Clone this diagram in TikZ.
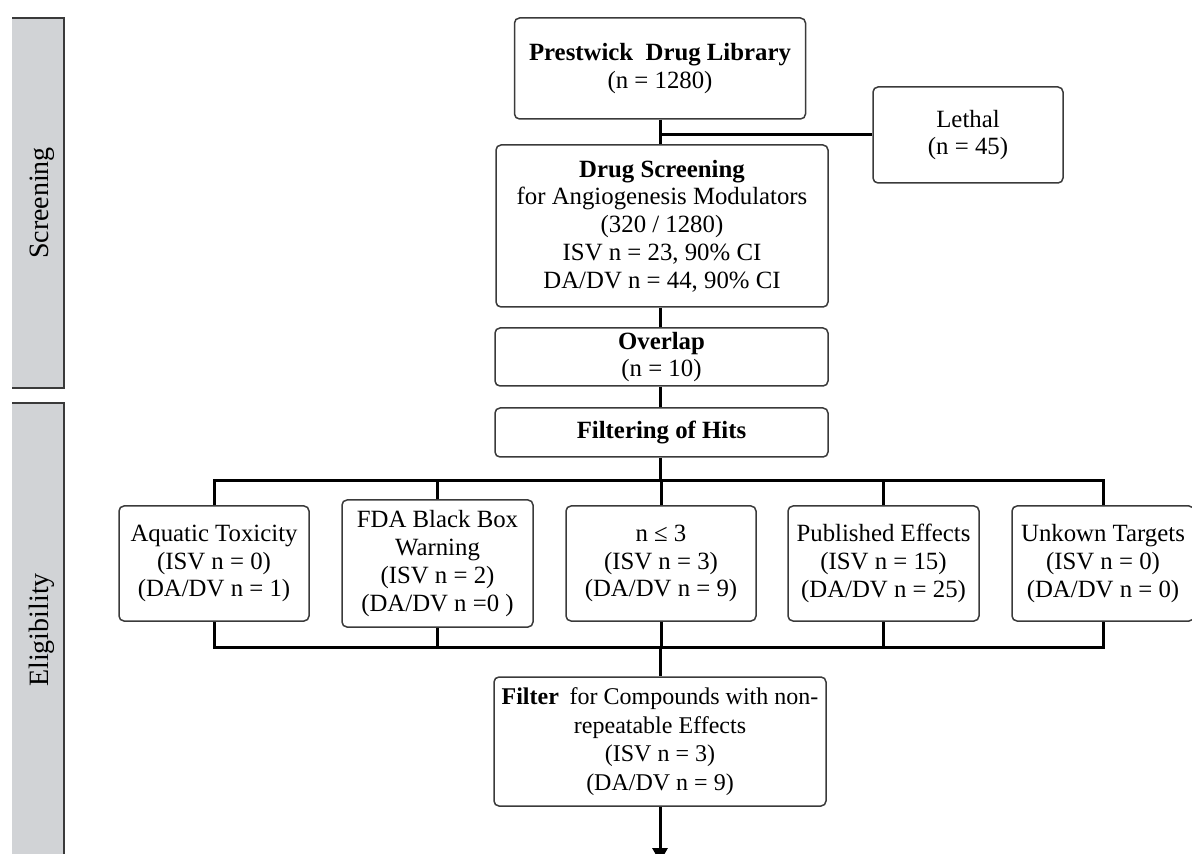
\documentclass[tikz,border=0pt]{standalone}
\usepackage{fontspec}
\setmainfont{Liberation Serif}
\usetikzlibrary{arrows.meta}
\definecolor{bandgray}{HTML}{D1D3D6}
\definecolor{boxline}{HTML}{3A3A3A}
\tikzset{>=latex,
  box/.style={draw=boxline, line width=0.75pt, rounded corners=2.5pt, align=center,
    inner sep=0pt, font=\fontsize{12.4}{13.9}\selectfont},
  conn/.style={line width=1.5pt, black},
  band/.style={fill=bandgray},
  bandedge/.style={draw=boxline, line width=0.6pt},
  bandlabel/.style={rotate=90, font=\fontsize{14}{16}\selectfont}}
\begin{document}
\begin{tikzpicture}[x=0.5pt, y=-0.5pt]
\useasboundingbox (0,0) rectangle (1192,854);
\fill[band] (12,18) rectangle (64,388);
\draw[bandedge] (12,18) -- (64,18) -- (64,388) -- (12,388);
\fill[band] (12,403) rectangle (64,870);
\draw[bandedge] (12,403) -- (64,403) -- (64,870);
\node[bandlabel] (scr) at (42,203) {Screening};
\node[bandlabel] (elig) at (42,630) {Eligibility};

\node[box, minimum width=145.5pt, minimum height=50.5pt] (prest) at (660,68.5)
  {\textbf{Prestwick\ \ Drug Library}\\(n = 1280)};
\node[box, minimum width=95pt, minimum height=48pt] (lethal) at (968,135)
  {Lethal\\(n = 45)};
\node[box, minimum width=166pt, minimum height=81pt] (screen) at (662,226)
  {\textbf{Drug Screening}\\for Angiogenesis Modulators\\(320 / 1280)\\ISV n = 23, 90\% CI\\DA/DV n = 44, 90\% CI};
\node[box, minimum width=166.5pt, minimum height=29pt] (overlap) at (661.5,357)
  {\textbf{Overlap}\\(n = 10)};
\node[box, minimum width=166.5pt, minimum height=24.5pt] (filt) at (661.5,432.5)
  {\textbf{Filtering of Hits}};
\node[box, minimum width=95pt, minimum height=57.5pt] (aqua) at (214,563.5)
  {Aquatic Toxicity\\(ISV n = 0)\\(DA/DV n = 1)};
\node[box, minimum width=95.5pt, minimum height=63.5pt] (fda) at (437.5,563.5)
  {FDA Black Box\\Warning\\(ISV n = 2)\\(DA/DV n =0 )};
\node[box, minimum width=95pt, minimum height=57.5pt] (nle) at (661,563.5)
  {n ≤ 3\\(ISV n = 3)\\(DA/DV n = 9)};
\node[box, minimum width=95.5pt, minimum height=57.5pt] (pub) at (883.5,563.5)
  {Published Effects\\(ISV n = 15)\\(DA/DV n = 25)};
\node[box, minimum width=91pt, minimum height=57.5pt] (unk) at (1103,563.5)
  {Unkown Targets\\(ISV n = 0)\\(DA/DV n = 0)};
\node[box, minimum width=166pt, minimum height=64.5pt, font=\fontsize{12}{14.3}\selectfont] (filter) at (660,741.5)
  {\textbf{Filter}\hspace{0.45em}for Compounds with non-\\repeatable Effects\\(ISV n = 3)\\(DA/DV n = 9)};

\coordinate (bustop) at (660,481);
\coordinate (busbot) at (660,647);
\coordinate (out) at (660,862);

\draw[conn] (prest) -- (prest |- screen.north);
\draw[conn] (lethal.west) -- (lethal.west -| prest.south);
\draw[conn] (screen.south -| prest) -- (prest |- overlap.north);
\draw[conn] (overlap.south -| prest) -- (prest |- filt.north);
\draw[conn] (filt.south -| prest) -- (bustop);
\draw[conn] (aqua.north) |- (bustop) -| (unk.north);
\draw[conn] (fda.north) -- (fda.north |- bustop);
\draw[conn] (nle.north) -- (nle.north |- bustop);
\draw[conn] (pub.north) -- (pub.north |- bustop);
\draw[conn] (aqua.south) |- (busbot) -| (unk.south);
\draw[conn] (fda.south) -- (fda.south |- busbot);
\draw[conn] (nle.south) -- (nle.south |- busbot);
\draw[conn] (pub.south) -- (pub.south |- busbot);
\draw[conn] (busbot) -- (filter.north);
\draw[conn, -{Triangle[width=7.5pt, length=7pt]}] (filter.south) -- (out);
\end{tikzpicture}
\end{document}
